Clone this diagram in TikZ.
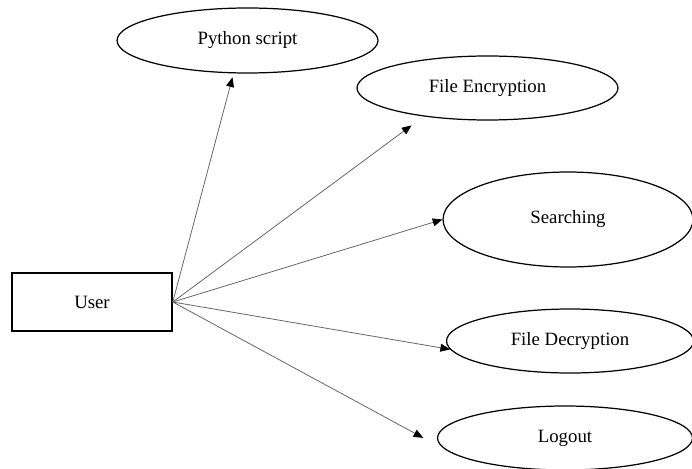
\documentclass[tikz,border=0pt]{standalone}
\usepackage{fontspec}
\setmainfont{Liberation Serif}
\usetikzlibrary{shapes.geometric,arrows.meta}

\begin{document}
\begin{tikzpicture}[x=0.02cm, y=-0.02cm,
  >={Triangle[length=5.5pt, width=4.5pt, color=black]},
  usecase/.style={draw, ellipse, line width=0.7pt, inner sep=0pt, font=\fontsize{10.7}{13}\selectfont},
  actor/.style={draw, rectangle, line width=0.9pt, minimum width=3.2cm, minimum height=1.16cm, font=\fontsize{10.7}{13}\selectfont},
  link/.style={->, draw=black!60, line width=0.45pt}]
\useasboundingbox (0,0) rectangle (692,469);

% Actor
\node[actor] (user) at (92,302) {User};

% Use cases
\node[usecase, minimum width=5.22cm, minimum height=1.30cm] (py) at (247.5,40.5) {Python script};
\node[usecase, minimum width=5.22cm, minimum height=1.28cm] (enc) at (487.5,88) {File Encryption};
\node[usecase, minimum width=5.0cm, minimum height=1.9cm] (srch) at (568,219.5) {Searching};
\node[usecase, minimum width=4.94cm, minimum height=1.28cm] (dec) at (570,341) {File Decryption};
\node[usecase, minimum width=5.1cm, minimum height=1.28cm] (lo) at (565,438) {Logout};

% Links
\draw[link, shorten >=0.08cm] (user.east) -- (py.247);
\draw[link, shorten >=0.3cm] (user.east) -- (enc.204);
\draw[link] (user.east) -- (srch.west);
\draw[link] (user.east) -- (dec.184);
\draw[link, shorten >=0.6cm] (user.east) -- (lo.187);
\end{tikzpicture}
\end{document}
